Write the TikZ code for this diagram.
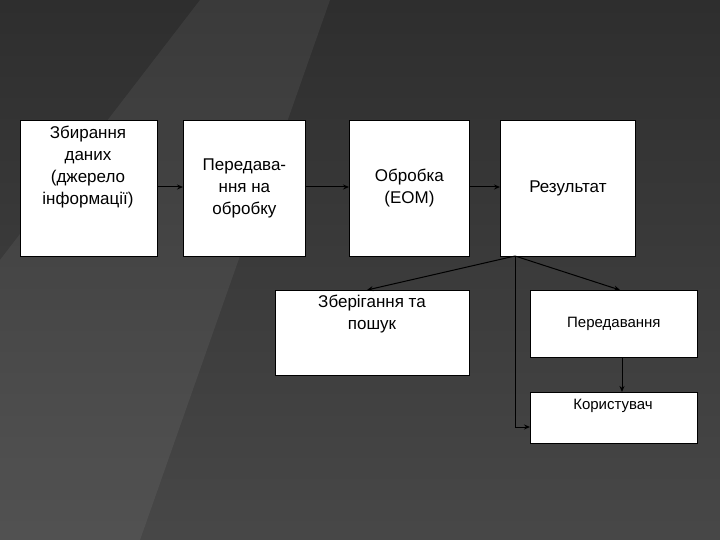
\documentclass[tikz,border=0pt]{standalone}
\usepackage{fontspec}
\setmainfont{Liberation Sans}
\usetikzlibrary{arrows.meta}
\begin{document}
\begin{tikzpicture}[x=1pt,y=-1pt,
  box/.style={draw=black,fill=white,line width=0.8pt,inner sep=0pt,font=\fontsize{17}{22}\selectfont,align=center},
  txt/.style={font=\fontsize{17}{22}\selectfont,align=center,inner sep=0pt},
  arr/.style={draw=black,line width=1pt,-{Stealth[length=6pt,width=5pt]}}]
\useasboundingbox (0,0) rectangle (720,540);
\shade[top color=black!82,bottom color=black!72] (0,0) rectangle (720,540);
\fill[white,opacity=0.06] (0,260) -- (200,0) -- (330,0) -- (140,540) -- (0,540) -- cycle;
\node[box,minimum width=137pt,minimum height=136pt,anchor=north west] (a) at (20,120) {};
\node[txt,anchor=north] at (88,126) {Збирання\\даних\\(джерело\\інформації)};
\node[box,minimum width=122pt,minimum height=136pt,anchor=north west] (b) at (183,120) {Передава-\\ння на\\обробку};
\node[box,minimum width=120pt,minimum height=136pt,anchor=north west] (c) at (349,120) {Обробка\\(ЕОМ)};
\node[box,minimum width=135pt,minimum height=136pt,anchor=north west] (d) at (500,120) {Результат};
\node[box,minimum width=194pt,minimum height=85pt,anchor=north west] (e) at (275,290) {};
\node[txt,anchor=north] at (372,295) {Зберігання та\\пошук};
\node[box,minimum width=167pt,minimum height=67pt,anchor=north west,font=\fontsize{15}{18}\selectfont] (f) at (530,290) {Передавання};
\node[box,minimum width=167pt,minimum height=51pt,anchor=north west] (g) at (530,392) {};
\node[txt,anchor=north,font=\fontsize{15}{18}\selectfont] at (613,399) {Користувач};
\draw[arr] (a.east |- 0,187) -- (b.west |- 0,187);
\draw[arr] (b.east |- 0,187) -- (c.west |- 0,187);
\draw[arr] (c.east |- 0,187) -- (d.west |- 0,187);
\coordinate (s) at (515,256);
\draw[arr] (s) -- (367,290);
\draw[arr] (s) -- (620,290);
\draw[arr] (s) -- (515,427) -- (g.west |- 0,427);
\draw[arr] (f.south -| 622,0) -- (g.north -| 622,0);
\end{tikzpicture}
\end{document}
